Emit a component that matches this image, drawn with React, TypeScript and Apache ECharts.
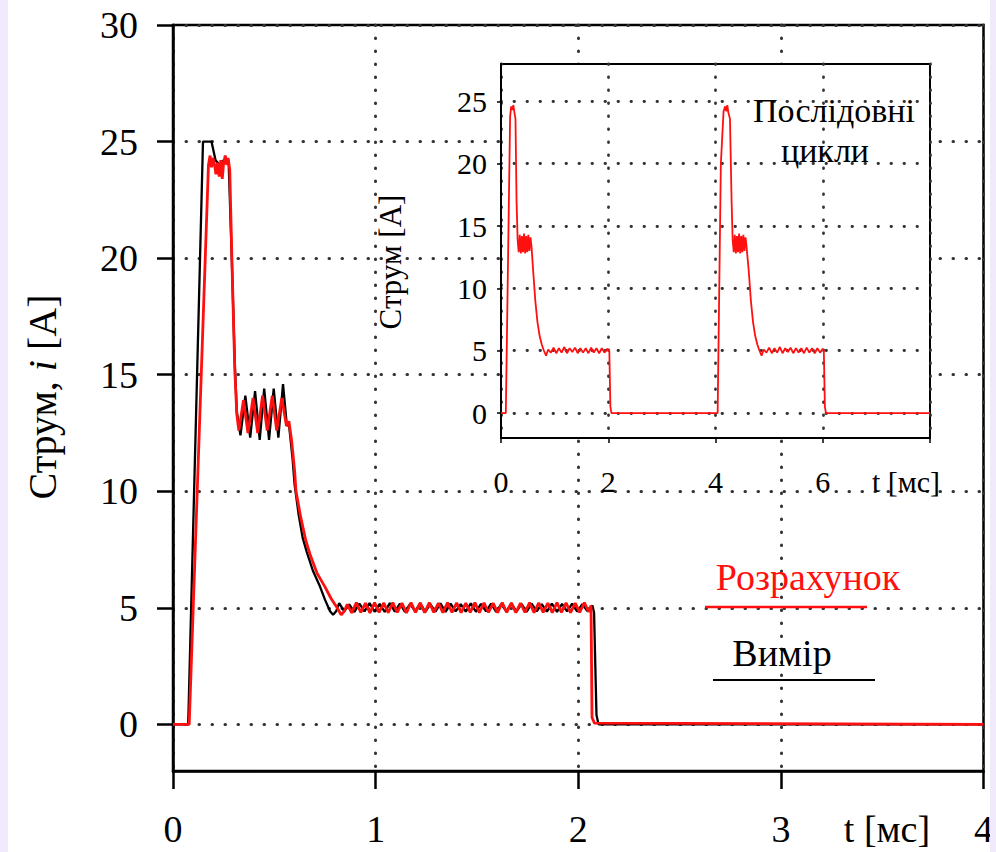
import React, { useEffect, useRef } from "react";
import * as echarts from "echarts";

// ---- Data ----
const mainYTicks = [0, 5, 10, 15, 20, 25, 30];
const insetYTicks = [0, 5, 10, 15, 20, 25];
const seriesNames = ["Вимір", "Розрахунок"];
const insetNote = ["Послідовні", "цикли"];

// Measured current (black), t [ms], i [A]
const measured: [number, number][] = [
  [0, 0], [0.075, 0], [0.148, 25], [0.19, 25], [0.21, 24.2], [0.23, 24.0], [0.25, 24.2], [0.275, 24.0],
  [0.29, 20], [0.305, 15.5], [0.315, 13.4],
  [0.333, 12.4], [0.357, 14.1], [0.381, 12.3], [0.405, 14.3], [0.428, 12.2], [0.45, 14.4], [0.474, 12.2],
  [0.497, 14.4], [0.52, 12.3], [0.543, 14.6], [0.562, 12.8], [0.572, 12.9],
  [0.59, 11.4], [0.6, 10.3], [0.62, 9.0], [0.64, 8.0], [0.66, 7.4], [0.69, 6.6], [0.726, 5.9], [0.75, 5.35],
  [0.775, 4.85], [0.79, 4.7], [0.805, 4.85], [0.82, 5.2],
  [0.845, 4.85], [0.87, 5.15], [0.895, 4.82], [0.92, 5.18], [0.945, 4.85], [0.97, 5.2], [0.995, 4.83],
  [1.02, 5.17], [1.045, 4.82], [1.07, 5.2], [1.095, 4.84], [1.12, 5.18], [1.145, 4.82], [1.17, 5.17],
  [1.195, 4.85], [1.22, 5.2], [1.245, 4.83], [1.27, 5.16], [1.295, 4.84], [1.32, 5.19], [1.345, 4.82],
  [1.37, 5.18], [1.395, 4.85], [1.42, 5.16], [1.445, 4.84], [1.47, 5.19], [1.495, 4.83], [1.52, 5.17],
  [1.545, 4.85], [1.57, 5.18], [1.595, 4.82], [1.62, 5.16], [1.645, 4.85], [1.67, 5.19], [1.695, 4.84],
  [1.72, 5.17], [1.745, 4.83], [1.77, 5.18], [1.795, 4.85], [1.82, 5.16], [1.845, 4.84], [1.87, 5.18],
  [1.895, 4.83], [1.92, 5.17], [1.945, 4.85], [1.97, 5.18], [1.995, 4.84], [2.02, 5.16], [2.045, 4.86],
  [2.07, 5.1], [2.078, 4.8], [2.09, 0.4], [2.1, 0], [4, 0],
];

// Calculated current (red)
const calculated: [number, number][] = [
  [0, 0], [0.08, 0], [0.175, 24.0], [0.183, 24.4], [0.19, 23.9], [0.197, 24.3], [0.205, 24.0], [0.212, 23.6],
  [0.22, 24.1], [0.228, 23.5], [0.236, 24.2], [0.243, 23.4], [0.25, 24.1], [0.258, 24.4], [0.265, 24.0],
  [0.272, 24.3], [0.28, 23.8], [0.292, 19.5], [0.305, 15.2], [0.315, 13.3],
  [0.325, 12.6], [0.348, 13.9], [0.37, 12.5], [0.395, 14.0], [0.418, 12.5], [0.442, 14.1], [0.465, 12.6],
  [0.49, 14.1], [0.512, 12.6], [0.537, 14.0], [0.56, 12.8], [0.572, 13.0],
  [0.585, 12.2], [0.6, 10.9], [0.607, 10.0], [0.63, 8.9], [0.655, 7.9], [0.676, 7.3], [0.71, 6.5],
  [0.75, 5.9], [0.78, 5.4], [0.81, 5.0], [0.83, 4.7], [0.845, 4.85], [0.86, 5.15],
  [0.882, 4.78], [0.905, 5.22], [0.927, 4.8], [0.95, 5.2], [0.972, 4.78], [0.995, 5.22], [1.017, 4.8],
  [1.04, 5.21], [1.062, 4.79], [1.085, 5.22], [1.107, 4.8], [1.13, 5.2], [1.152, 4.78], [1.175, 5.22],
  [1.197, 4.8], [1.22, 5.21], [1.242, 4.79], [1.265, 5.22], [1.287, 4.8], [1.31, 5.2], [1.332, 4.79],
  [1.355, 5.22], [1.377, 4.8], [1.4, 5.21], [1.422, 4.79], [1.445, 5.2], [1.467, 4.8], [1.49, 5.22],
  [1.512, 4.79], [1.535, 5.21], [1.557, 4.8], [1.58, 5.2], [1.602, 4.79], [1.625, 5.22], [1.647, 4.8],
  [1.67, 5.21], [1.692, 4.79], [1.715, 5.2], [1.737, 4.8], [1.76, 5.22], [1.782, 4.79], [1.805, 5.21],
  [1.827, 4.8], [1.85, 5.2], [1.872, 4.79], [1.895, 5.22], [1.917, 4.8], [1.94, 5.21], [1.962, 4.79],
  [1.985, 5.2], [2.007, 4.8], [2.03, 5.22], [2.052, 4.82], [2.063, 5.1], [2.068, 0.3], [2.08, 0.05], [4, 0],
];

// Inset: successive cycles (red), t [ms]
const insetCycles: [number, number][] = [
  [0, 0], [0.09, 0], [0.17, 23.8], [0.19, 24.6], [0.21, 24.3], [0.23, 24.7], [0.25, 24.1], [0.27, 23.6],
  [0.29, 17], [0.31, 13.9], [0.33, 12.9], [0.35, 14.3], [0.37, 12.8], [0.39, 14.2], [0.41, 12.9], [0.43, 14.4],
  [0.45, 12.8], [0.47, 14.2], [0.49, 12.9], [0.51, 14.3], [0.53, 13.0], [0.55, 14.1], [0.57, 13.3],
  [0.6, 11.4], [0.64, 9.0], [0.68, 7.3], [0.72, 6.2], [0.76, 5.5], [0.8, 5.0], [0.84, 4.6], [0.88, 5.1],
  [0.93, 4.85], [0.98, 5.25], [1.03, 4.8], [1.08, 5.2], [1.13, 4.85], [1.18, 5.3], [1.23, 4.8], [1.28, 5.2],
  [1.33, 4.9], [1.38, 5.25], [1.43, 4.8], [1.48, 5.2], [1.53, 4.85], [1.58, 5.2], [1.63, 4.8], [1.68, 5.25],
  [1.73, 4.85], [1.78, 5.2], [1.83, 4.8], [1.88, 5.2], [1.93, 4.85], [1.98, 5.15], [2.02, 5.0], [2.04, 0.5],
  [2.06, 0], [4.04, 0],
  [4.1, 20], [4.15, 24.2], [4.18, 24.6], [4.2, 24.2], [4.22, 24.7], [4.24, 24.1], [4.27, 23.6],
  [4.3, 17], [4.32, 13.9], [4.34, 12.9], [4.36, 14.3], [4.38, 12.8], [4.4, 14.2], [4.42, 12.9], [4.44, 14.4],
  [4.46, 12.8], [4.48, 14.2], [4.5, 12.9], [4.52, 14.3], [4.54, 13.0], [4.56, 14.1], [4.58, 13.3],
  [4.62, 11.4], [4.66, 9.0], [4.7, 7.3], [4.74, 6.2], [4.78, 5.5], [4.82, 5.0], [4.86, 4.6], [4.9, 5.1],
  [4.95, 4.85], [5.0, 5.25], [5.05, 4.8], [5.1, 5.2], [5.15, 4.85], [5.2, 5.3], [5.25, 4.8], [5.3, 5.2],
  [5.35, 4.9], [5.4, 5.25], [5.45, 4.8], [5.5, 5.2], [5.55, 4.85], [5.6, 5.2], [5.65, 4.8], [5.7, 5.25],
  [5.75, 4.85], [5.8, 5.2], [5.85, 4.8], [5.9, 5.2], [5.95, 4.85], [6.0, 5.15], [6.02, 5.0], [6.04, 0.5],
  [6.06, 0], [8, 0],
];

const FONT = "'Liberation Serif', 'Times New Roman', serif";
const RED = "#ff1010";

export default function App() {
  const ref = useRef<HTMLDivElement>(null);
  useEffect(() => {
    if (!ref.current) return;
    const chart = echarts.init(ref.current, undefined, { renderer: "svg" });
    const dotted = { type: [0.5, 12.5], width: 3, color: "#333", cap: "round" };
    const insetDotted = { type: [0.5, 12.5], width: 2.8, color: "#333", cap: "round" };
    const option: any = {
      animation: false,
      backgroundColor: "#ffffff",
      grid: [
        { left: 173, top: 25, width: 811, height: 746, show: true, borderColor: "#000", borderWidth: 2.5, backgroundColor: "transparent", z: 0 },
        { left: 501, top: 64, width: 429, height: 374, show: true, borderColor: "#000", borderWidth: 2, backgroundColor: "#fff", z: 3 },
      ],
      xAxis: [
        {
          type: "value", gridIndex: 0, min: 0, max: 4, interval: 1,
          axisLine: { show: true, onZero: false, lineStyle: { color: "#000", width: 2.5 } },
          axisTick: { show: true, length: 18, lineStyle: { color: "#000", width: 2.5 } },
          axisLabel: { fontFamily: FONT, fontSize: 38, color: "#000", margin: 39 },
          splitLine: { show: true, lineStyle: dotted },
        },
        {
          type: "value", gridIndex: 1, min: 0, max: 8, interval: 2, z: 4,
          axisLine: { show: true, onZero: false, lineStyle: { color: "#000", width: 2 } },
          axisTick: { show: true, length: 5, lineStyle: { color: "#000", width: 1.5 } },
          axisLabel: { fontFamily: FONT, fontSize: 30, color: "#000", margin: 28, formatter: (v: number) => (v === 8 ? "" : String(v)) },
          splitLine: { show: true, lineStyle: insetDotted },
        },
      ],
      yAxis: [
        {
          type: "value", gridIndex: 0, min: -2, max: 30,
          axisLine: { show: true, onZero: false, lineStyle: { color: "#000", width: 2.5 } },
          axisTick: { show: true, length: 16, customValues: mainYTicks, lineStyle: { color: "#000", width: 2.5 } },
          axisLabel: { fontFamily: FONT, fontSize: 38, color: "#000", margin: 35, customValues: mainYTicks },
          splitLine: { show: true, lineStyle: dotted },
        },
        {
          type: "value", gridIndex: 1, min: -2, max: 28, z: 4,
          axisLine: { show: true, onZero: false, lineStyle: { color: "#000", width: 2 } },
          axisTick: { show: true, length: 4, customValues: insetYTicks, lineStyle: { color: "#000", width: 1.5 } },
          axisLabel: { fontFamily: FONT, fontSize: 30, color: "#000", margin: 14, customValues: insetYTicks },
          splitLine: { show: true, lineStyle: insetDotted },
        },
      ],
      series: [
        { name: seriesNames[0], type: "line", xAxisIndex: 0, yAxisIndex: 0, data: measured, showSymbol: false, symbol: "none", lineStyle: { color: "#000", width: 2.3 }, z: 2 },
        { name: seriesNames[1], type: "line", xAxisIndex: 0, yAxisIndex: 0, data: calculated, showSymbol: false, symbol: "none", lineStyle: { color: RED, width: 2.8 }, z: 3 },
        { name: "inset", type: "line", xAxisIndex: 1, yAxisIndex: 1, data: insetCycles, showSymbol: false, symbol: "none", lineStyle: { color: RED, width: 1.8 }, z: 6 },
      ],
      graphic: [
        { type: "rect", shape: { x: 0, y: 0, width: 8, height: 852 }, style: { fill: "#f0eafc" }, z: 100 },
        { type: "rect", shape: { x: 990, y: 0, width: 6, height: 852 }, style: { fill: "#f0eafc" }, z: 100 },
        {
          type: "text", x: 42, y: 397, rotation: Math.PI / 2, z: 100,
          style: {
            text: "{a|Струм, }{b|i}{a| [A]}", textAlign: "center", textVerticalAlign: "middle",
            rich: { a: { fontFamily: FONT, fontSize: 40, fill: "#000" }, b: { fontFamily: FONT, fontSize: 40, fontStyle: "italic", fill: "#000" } },
          },
        },
        { type: "text", x: 887, y: 829, z: 100, style: { text: "t [мс]", fontFamily: FONT, fontSize: 38, fill: "#000", textAlign: "center", textVerticalAlign: "middle" } },
        { type: "text", x: 390, y: 262, rotation: Math.PI / 2, z: 100, style: { text: "Струм [А]", fontFamily: FONT, fontSize: 31, fill: "#000", textAlign: "center", textVerticalAlign: "middle" } },
        { type: "text", x: 906, y: 481, z: 100, style: { text: "t [мс]", fontFamily: FONT, fontSize: 30, fill: "#000", textAlign: "center", textVerticalAlign: "middle" } },
        { type: "text", x: 834, y: 110, z: 100, style: { text: insetNote[0], fontFamily: FONT, fontSize: 34, fill: "#000", textAlign: "center", textVerticalAlign: "middle" } },
        { type: "text", x: 825, y: 150, z: 100, style: { text: insetNote[1], fontFamily: FONT, fontSize: 34, fill: "#000", textAlign: "center", textVerticalAlign: "middle" } },
        { type: "text", x: 808, y: 577, z: 100, style: { text: seriesNames[1], fontFamily: FONT, fontSize: 38, fill: RED, textAlign: "center", textVerticalAlign: "middle" } },
        { type: "line", shape: { x1: 705, y1: 607, x2: 867, y2: 607 }, style: { stroke: RED, lineWidth: 2.5 }, z: 100 },
        { type: "text", x: 782, y: 653, z: 100, style: { text: seriesNames[0], fontFamily: FONT, fontSize: 38, fill: "#000", textAlign: "center", textVerticalAlign: "middle" } },
        { type: "line", shape: { x1: 713, y1: 680, x2: 875, y2: 680 }, style: { stroke: "#000", lineWidth: 2 }, z: 100 },
      ],
    };
    chart.setOption(option);
    return () => chart.dispose();
  }, []);
  return (
    <div style={{ position: "fixed", left: 0, top: 0, width: 996, height: 852 }}>
      <div ref={ref} style={{ width: 996, height: 852 }} />
    </div>
  );
}
